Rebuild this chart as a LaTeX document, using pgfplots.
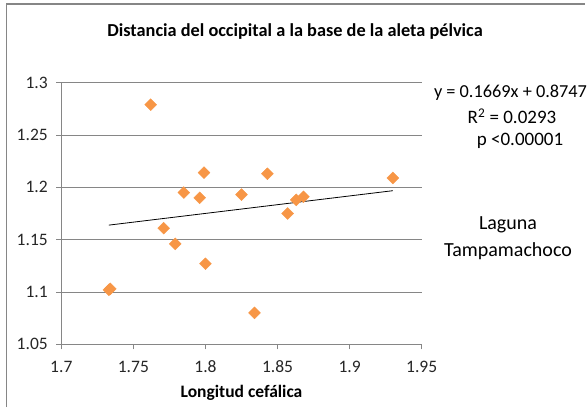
\documentclass[border=0pt]{standalone}
\usepackage{pgfplots}
\pgfplotsset{compat=1.18}
\usepackage{fontspec}
\setmainfont{Carlito}
\definecolor{excelorange}{HTML}{F79646}
\definecolor{gridgray}{HTML}{868686}
\begin{document}
\begin{tikzpicture}[x=1pt,y=1pt]
\useasboundingbox (0,0) rectangle (588,407);
\draw[gridgray, line width=1.2pt] (6.5,0) -- (6.5,403) -- (585,403);
\begin{axis}[
  at={(61.3pt,62.7pt)}, anchor=south west,
  scale only axis, width=360.4pt, height=261.6pt,
  xmin=1.7, xmax=1.95, ymin=1.05, ymax=1.3,
  xtick={1.7,1.75,1.8,1.85,1.9,1.95},
  ytick={1.05,1.1,1.15,1.2,1.25,1.3},
  xticklabels={1.7,1.75,1.8,1.85,1.9,1.95},
  yticklabels={1.05,1.1,1.15,1.2,1.25,1.3},
  axis x line*=bottom, axis y line*=left,
  axis line style={gridgray, line width=0.9pt, -},
  ymajorgrids, grid style={gridgray, line width=0.9pt},
  tick align=outside, major tick length=5pt,
  tick style={gridgray, line width=0.9pt},
  ticklabel style={font=\fontsize{17.5}{20}\selectfont, text=black!85},
  yticklabel style={xshift=-5pt},
  xticklabel style={yshift=-8pt},
  clip=false,
]
\addplot[only marks, mark=square*, mark size=4.2pt,
  mark options={rotate=45, fill=excelorange, draw=excelorange}]
  coordinates {
  (1.762,1.279) (1.771,1.161) (1.779,1.146) (1.785,1.195)
  (1.796,1.190) (1.799,1.214) (1.800,1.127) (1.825,1.193)
  (1.834,1.080) (1.843,1.213) (1.857,1.175) (1.863,1.188)
  (1.868,1.191) (1.930,1.209) (1.733,1.102) (1.734,1.103)
  };
\addplot[black, line width=0.8pt] coordinates {(1.733,1.1639) (1.930,1.1968)};
\end{axis}
\node[font=\fontsize{18.3}{21}\selectfont\bfseries] at (295,375) {Distancia del occipital a la base de la aleta pélvica};
\node[font=\fontsize{17.5}{21}\selectfont\bfseries] at (241.5,14) {Longitud cefálica};
\node[font=\fontsize{18.3}{22}\selectfont] at (510.5,314) {y = 0.1669x + 0.8747};
\node[font=\fontsize{19}{22}\selectfont] at (512,290.5) {R\textsuperscript{2} = 0.0293};
\node[font=\fontsize{19}{22}\selectfont] at (520,266) {p <0.00001};
\node[font=\fontsize{20}{24}\selectfont] at (508,182) {Laguna};
\node[font=\fontsize{20}{24}\selectfont] at (508,156) {Tampamachoco};
\end{tikzpicture}
\end{document}
